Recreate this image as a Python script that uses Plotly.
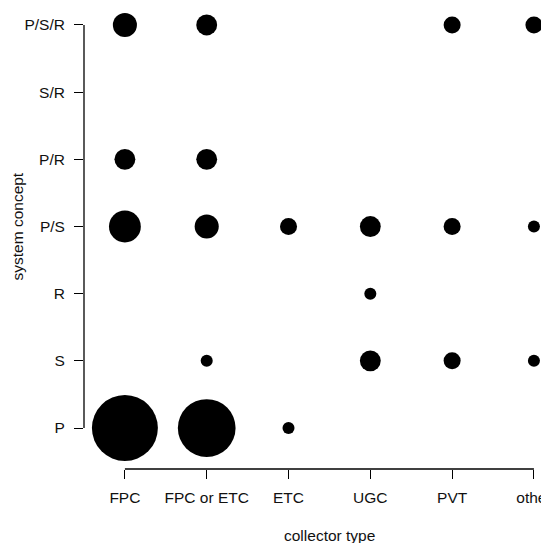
import plotly.graph_objects as go

collector_types = ["FPC", "FPC or ETC", "ETC", "UGC", "PVT", "other"]
system_concepts = ["P", "S", "R", "P/S", "P/R", "S/R", "P/S/R"]  # bottom to top

counts_P = [30, 23, 1, 0, 0, 0]
counts_S = [0, 1, 0, 3, 2, 1]
counts_R = [0, 0, 0, 1, 0, 0]
counts_PS = [7, 4, 2, 3, 2, 1]
counts_PR = [3, 3, 0, 0, 0, 0]
counts_SR = [0, 0, 0, 0, 0, 0]
counts_PSR = [4, 3, 0, 0, 2, 2]

rows = [counts_P, counts_S, counts_R, counts_PS, counts_PR, counts_SR, counts_PSR]

xs, ys, ss = [], [], []
for j, row in enumerate(rows):
    for i, c in enumerate(row):
        if c > 0:
            xs.append(i + 1)
            ys.append(j + 1)
            ss.append(c)

FONT = "Liberation Sans, Arial, Helvetica, sans-serif"

fig = go.Figure()
fig.add_trace(go.Scatter(
    x=xs, y=ys, mode="markers",
    marker=dict(size=ss, sizemode="area", sizeref=2 / 145.0, sizemin=1,
                color="black", opacity=1, line=dict(width=0)),
    cliponaxis=False, hoverinfo="skip", showlegend=False,
))

nx = len(collector_types)
ny = len(system_concepts)

fig.update_layout(
    width=549, height=543,
    margin=dict(l=76, r=0, t=0, b=82),
    paper_bgcolor="white", plot_bgcolor="white",
    font=dict(family=FONT, size=15.5, color="black"),
    xaxis=dict(
        range=[0.5, 6.282], tickmode="array",
        tickvals=list(range(1, nx + 1)), ticktext=collector_types,
        showgrid=False, zeroline=False, showline=False,
        ticks="outside", ticklen=9, tickwidth=1.3, tickcolor="black",
        ticklabelstandoff=5,
        tickfont=dict(family=FONT, size=15.5, color="#111"),
    ),
    yaxis=dict(
        range=[0.39, 7.253], tickmode="array",
        tickvals=list(range(1, ny + 1)), ticktext=system_concepts,
        showgrid=False, zeroline=False, showline=False,
        ticks="outside", ticklen=9, tickwidth=1.3, tickcolor="black",
        ticklabelstandoff=6,
        tickfont=dict(family=FONT, size=15.5, color="#111"),
    ),
    shapes=[
        dict(type="line", xref="x", yref="paper", x0=1, x1=nx, y0=0, y1=0,
             line=dict(color="black", width=1.3)),
        dict(type="line", xref="paper", yref="y", x0=0, x1=0, y0=1, y1=ny,
             line=dict(color="black", width=1.3)),
    ],
    annotations=[
        dict(text="collector type", xref="x", yref="paper",
             x=(1 + nx) / 2, y=0, yshift=-66, xanchor="center", yanchor="middle",
             showarrow=False, font=dict(family=FONT, size=15.5, color="#111")),
        dict(text="system concept", xref="paper", yref="y",
             x=0, y=(1 + ny) / 2, xshift=-66, xanchor="center", yanchor="middle",
             textangle=-90, showarrow=False,
             font=dict(family=FONT, size=15.5, color="#111")),
    ],
)

fig.write_html("out.html")
